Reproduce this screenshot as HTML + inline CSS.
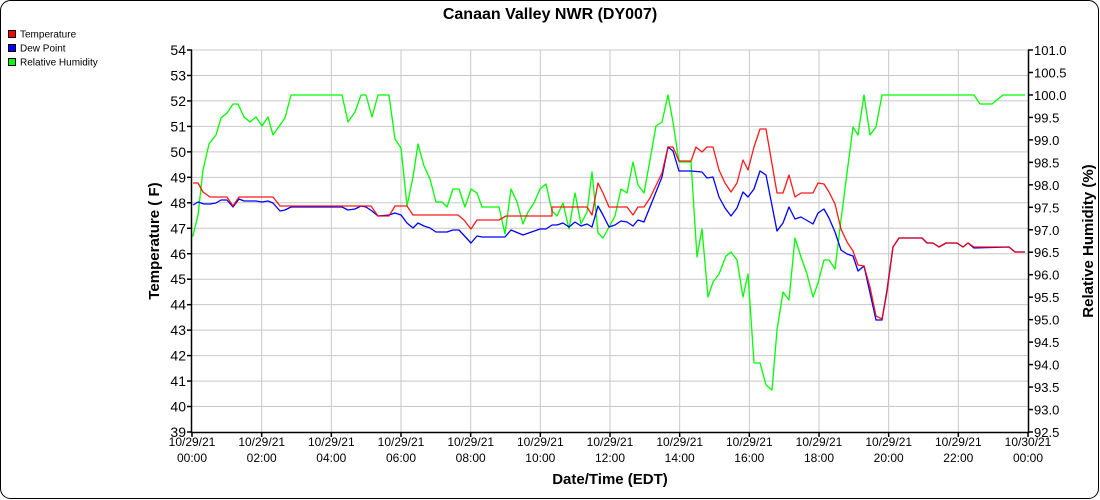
<!DOCTYPE html>
<html><head><meta charset="utf-8"><style>
body{margin:0;background:#fff;}
svg{display:block;font-family:"Liberation Sans",sans-serif;}
</style></head><body>
<svg width="1100" height="500" viewBox="0 0 1100 500">
<rect x="0.5" y="0.5" width="1098" height="498" rx="10" fill="#fff" stroke="#000"/>
<text x="550" y="19" text-anchor="middle" font-size="16" font-weight="bold">Canaan Valley NWR (DY007)</text>
<rect x="8.5" y="30.5" width="7" height="7" fill="#f00" stroke="#000"/>
<text x="20" y="37.5" font-size="10">Temperature</text>
<rect x="8.5" y="44.5" width="7" height="7" fill="#00f" stroke="#000"/>
<text x="20" y="51.5" font-size="10">Dew Point</text>
<rect x="8.5" y="58.5" width="7" height="7" fill="#0f0" stroke="#000"/>
<text x="20" y="65.5" font-size="10">Relative Humidity</text>
<g id="grid" stroke="#c8c8c8" stroke-width="1"></g>
<g font-size="14" text-anchor="end" fill="#000">
<text x="186" y="55">54</text><text x="186" y="80.5">53</text><text x="186" y="106">52</text><text x="186" y="131.4">51</text><text x="186" y="156.9">50</text><text x="186" y="182.4">49</text><text x="186" y="207.8">48</text><text x="186" y="233.3">47</text><text x="186" y="258.8">46</text><text x="186" y="284.2">45</text><text x="186" y="309.7">44</text><text x="186" y="335.2">43</text><text x="186" y="360.6">42</text><text x="186" y="386.1">41</text><text x="186" y="411.6">40</text><text x="186" y="437">39</text>
</g>
<g font-size="13" fill="#000">
<text x="1034" y="55">101.0</text><text x="1034" y="77.5">100.5</text><text x="1034" y="99.9">100.0</text><text x="1034" y="122.4">99.5</text><text x="1034" y="144.9">99.0</text><text x="1034" y="167.4">98.5</text><text x="1034" y="189.8">98.0</text><text x="1034" y="212.3">97.5</text><text x="1034" y="234.8">97.0</text><text x="1034" y="257.2">96.5</text><text x="1034" y="279.7">96.0</text><text x="1034" y="302.2">95.5</text><text x="1034" y="324.6">95.0</text><text x="1034" y="347.1">94.5</text><text x="1034" y="369.6">94.0</text><text x="1034" y="392">93.5</text><text x="1034" y="414.5">93.0</text><text x="1034" y="437">92.5</text>
</g>
<g font-size="12" text-anchor="middle" fill="#000">
<text x="192" y="446">10/29/21</text><text x="192" y="462">00:00</text>
<text x="261.7" y="446">10/29/21</text><text x="261.7" y="462">02:00</text>
<text x="331.3" y="446">10/29/21</text><text x="331.3" y="462">04:00</text>
<text x="401" y="446">10/29/21</text><text x="401" y="462">06:00</text>
<text x="470.7" y="446">10/29/21</text><text x="470.7" y="462">08:00</text>
<text x="540.3" y="446">10/29/21</text><text x="540.3" y="462">10:00</text>
<text x="610" y="446">10/29/21</text><text x="610" y="462">12:00</text>
<text x="679.7" y="446">10/29/21</text><text x="679.7" y="462">14:00</text>
<text x="749.3" y="446">10/29/21</text><text x="749.3" y="462">16:00</text>
<text x="819" y="446">10/29/21</text><text x="819" y="462">18:00</text>
<text x="888.7" y="446">10/29/21</text><text x="888.7" y="462">20:00</text>
<text x="958.3" y="446">10/29/21</text><text x="958.3" y="462">22:00</text>
<text x="1028" y="446">10/30/21</text><text x="1028" y="462">00:00</text>
</g>
<text x="610" y="484" text-anchor="middle" font-size="15" font-weight="bold">Date/Time (EDT)</text>
<text transform="translate(159,241) rotate(-90)" text-anchor="middle" font-size="15" font-weight="bold">Temperature ( F)</text>
<text transform="translate(1093,241) rotate(-90)" text-anchor="middle" font-size="15" font-weight="bold">Relative Humidity (%)</text>
<g fill="none" stroke-width="1.3" stroke-linejoin="round">
<polyline stroke="#00ff00" points="192.7,236.7 198,215 203,170 209,144 216,135 221,118 227,113 233,104 238,104 244,117 250,122 256,117 262,126 268,117 273,135 285,118 291,95 342,95 348,122 355,112 361,95 366,95 372,117 378,95 389,95 395,139 401,148 407,206 413,177 418,144 424,166 430,179 436,202 442,202 447,207 453,189 459,189 465,207 471,189 477,193 482,207 499,207 505,234 511,189 517,202 523,224 528,212 534,203 540,189 546,184 552,211 557,216 563,203 569,229 575,193 581,224 587,212 592,172 598,233 603,238 609,227 615,216 621,189 627,193 633,162 638,185 644,193 650,160 656,126 662,122 668,95 673,122 679,162 691,162 697,257 702,229 708,297 713,282 719,274 726,256 731,252 737,260 743,297 748,274 754,363 760,363 766,385 772,390 777,330 783,292 789,300 795,238 801,257 807,274 813,297 818,283 824,260 829,260 835,269 841,220 847,173 853,127 858,135 864,95 870,135 876,127 882,95 974,95 980,104 992,104 1003,95 1025,95"/>
<polyline stroke="#0000ff" points="193,205 198,202 204,204 210,204 216,203 221,200 227,200 233,207 239,199 244,201 250,201 256,201 262,202 268,201 273,203 280,211 285,210 291,207 342,207 348,210 355,209 361,206 366,207 372,211 378,216 389,215 395,213 401,215 407,223 413,228 418,223 424,226 430,228 436,232 447,232 453,230 459,230 471,243 477,236 482,237 505,237 511,230 523,235 540,229 546,229 552,225 557,225 563,223 569,227 575,222 581,226 587,224 592,227 598,206 603,215 609,227 615,225 621,221 627,222 633,226 638,220 644,222 650,207 662,177 668,147 673,151 679,171 691,171 702,172 707,178 713,177 719,197 725,208 731,216 737,208 743,192 748,197 754,189 760,171 766,175 777,231 783,223 789,207 795,219 801,217 813,224 818,213 824,209 829,218 835,232 841,250 847,254 853,256 858,271 864,266 876,320 882,320 887,290 893,247 899,238 922,238 927,243 933,243 939,247 946,243 957,243 963,247 968,243 974,248 1009,247 1015,252 1025,252"/>
<polyline stroke="#ff0000" stroke-opacity="0.9" points="193,183 198,183 203,192 210,197 227,197 233,206 239,197 273,197 280,206 371,206 378,216 389,216 395,206 407,206 413,215 458,215 464,220 471,229 477,220 499,220 506,216 552,216 552,207 587,207 592,215 598,183 603,193 609,207 627,207 633,215 638,207 644,207 650,198 662,173 668,147 673,147 679,161 691,161 696,147 702,152 707,147 713,147 719,170 725,183 731,192 737,183 743,160 748,170 754,147 760,129 766,129 777,193 783,193 789,175 795,197 801,193 813,193 818,183 824,184 829,192 835,204 841,229 847,242 853,251 858,265 864,266 870,287 876,316 882,319 887,292 893,247 899,238 922,238 927,243 933,243 939,247 946,243 957,243 963,247 968,243 974,247 1009,247 1015,252 1025,252"/>
</g>
<g id="axes" stroke="#000" stroke-width="1.5" fill="none">
<line x1="191.5" y1="50" x2="191.5" y2="433"/>
<line x1="1028.5" y1="50" x2="1028.5" y2="433"/>
<line x1="191" y1="432.5" x2="1029" y2="432.5"/>
</g>
<script>
var g=document.getElementById('grid'),a=document.getElementById('axes'),ns='http://www.w3.org/2000/svg';
function L(p,x1,y1,x2,y2){var l=document.createElementNS(ns,'line');l.setAttribute('x1',x1);l.setAttribute('y1',y1);l.setAttribute('x2',x2);l.setAttribute('y2',y2);p.appendChild(l);}
for(var i=0;i<=15;i++){var y=50+i*382/15;if(i<15)L(g,192,y,1028,y);L(a,187,y,192,y);}
for(var i=1;i<12;i++){var x=192+i*836/12;L(g,x,50,x,432);}
for(var i=0;i<=12;i++){var x=192+i*836/12;L(a,x,432,x,437);}
for(var i=0;i<=17;i++){var y=50+i*382/17;L(a,1028,y,1033,y);}
</script>
</svg>
</body></html>
